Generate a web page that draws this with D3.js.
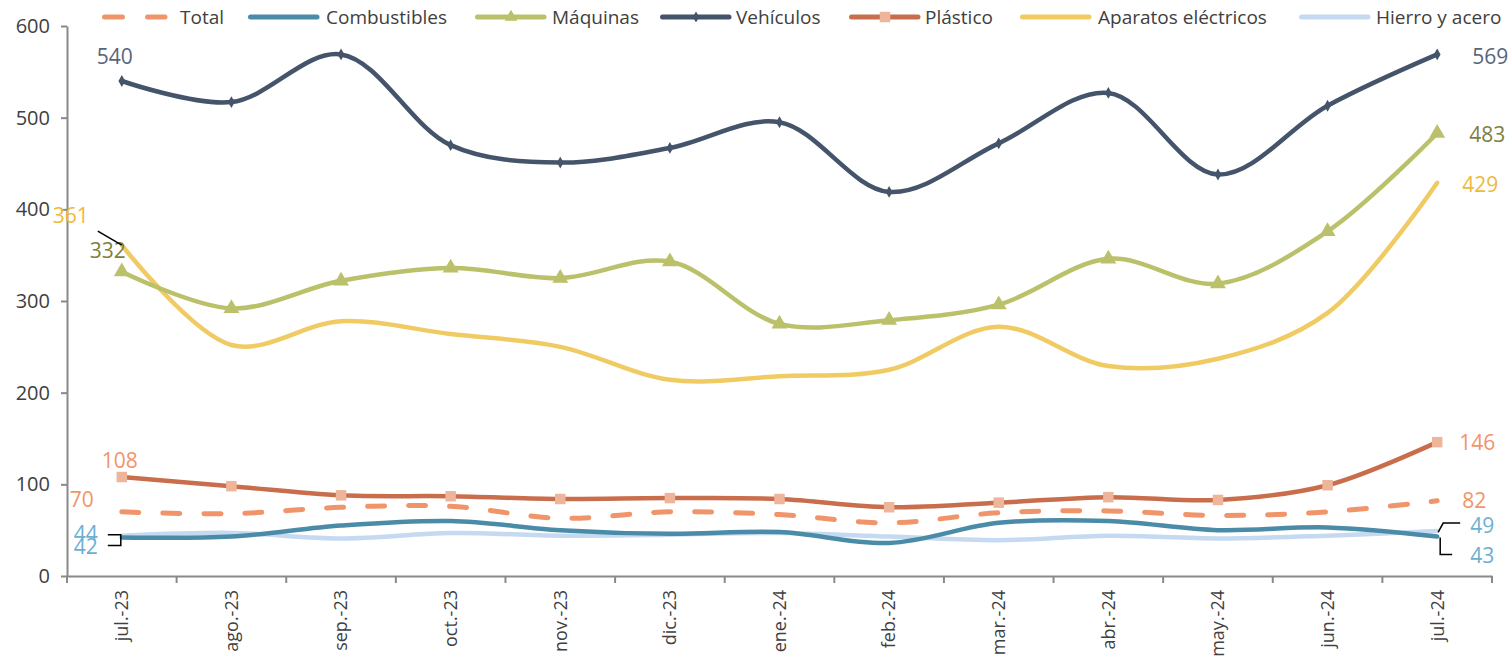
<!DOCTYPE html>
<html><head><meta charset="utf-8">
<script src="https://cdn.jsdelivr.net/npm/d3@7"></script>
<style>body{margin:0;background:#fff}svg{display:block}text{font-family:"Open Sans",Lato,sans-serif}</style>
</head><body><svg id="c" width="1509" height="660"></svg>
<script>
const categories = ["jul.-23","ago.-23","sep.-23","oct.-23","nov.-23","dic.-23","ene.-24","feb.-24","mar.-24","abr.-24","may.-24","jun.-24","jul.-24"];
const total        = [70,68,75,76,63,70,67,58,69,71,66,70,82];
const combustibles = [42,43,55,60,50,46,48,36,58,60,50,53,43];
const maquinas     = [332,292,322,336,325,343,275,279,296,346,319,376,483];
const vehiculos    = [540,517,569,470,451,467,495,419,472,527,438,513,569];
const plastico     = [108,98,88,87,84,85,84,75,80,86,83,99,146];
const aparatos     = [361,252,278,264,250,214,218,225,272,229,237,287,429];
const hierro       = [44,47,41,47,44,45,47,43,39,44,41,44,49];
const yTicks = [0,100,200,300,400,500,600];

const series = [
  {name:"Total", values:total, color:"#F0956A", dash:"17,24", marker:null, lab:"#F0956A"},
  {name:"Combustibles", values:combustibles, color:"#4A8BA8", marker:null, lab:"#6BB0D3"},
  {name:"Máquinas", values:maquinas, color:"#BBC16A", marker:"triangle", lab:"#7F7F3F"},
  {name:"Vehículos", values:vehiculos, color:"#44546A", marker:"diamond", lab:"#56657B"},
  {name:"Plástico", values:plastico, color:"#C96E4D", marker:"square", mcolor:"#EFB59B", lab:"#F0956A"},
  {name:"Aparatos eléctricos", values:aparatos, color:"#F0CB64", marker:null, lab:"#F0B93A"},
  {name:"Hierro y acero", values:hierro, color:"#C5D9F1", marker:null, lab:"#6BB0D3"}
];
const drawOrder = ["Hierro y acero","Combustibles","Total","Plástico","Aparatos eléctricos","Máquinas","Vehículos"];

const svg = d3.select("#c");
const FONT = '"Open Sans",Lato,sans-serif';
const x0 = 67, x1 = 1492, yTop = 26, yBot = 576;
const xb = d3.scaleBand().domain(categories).range([x0,x1]);
const x = c => xb(c) + xb.bandwidth()/2;
const y = d3.scaleLinear().domain([0,600]).range([yBot,yTop]);

// Y axis
const ya = svg.append("g").attr("transform",`translate(${x0},0)`)
  .call(d3.axisLeft(y).tickValues(yTicks).tickSize(6).tickPadding(11).tickSizeOuter(0));
ya.selectAll("path,line").attr("stroke","#898989").attr("stroke-width",2);
ya.selectAll("text").attr("font-size",20).attr("fill","#404040").attr("font-family",FONT);

// X axis
const xa = svg.append("g").attr("transform",`translate(0,${yBot})`)
  .call(d3.axisBottom(xb).tickSize(0).tickSizeOuter(0));
xa.select("path").attr("stroke","#898989").attr("stroke-width",2);
xa.selectAll(".tick text").attr("font-size",18).attr("fill","#404040").attr("font-family",FONT)
  .attr("transform","rotate(-90)").attr("text-anchor","end")
  .attr("x",-14).attr("y",0).attr("dy","0.35em");
const bounds = categories.map(c=>xb(c)).concat([x1]);
svg.append("g").selectAll("line").data(bounds).join("line")
  .attr("x1",d=>d).attr("x2",d=>d).attr("y1",yBot).attr("y2",yBot+7)
  .attr("stroke","#898989").attr("stroke-width",2);

const line = d3.line().x((d,i)=>x(categories[i])).y(d=>y(d)).curve(d3.curveCatmullRom.alpha(0.5));
const byName = Object.fromEntries(series.map(s=>[s.name,s]));
drawOrder.forEach(n=>{
  const s = byName[n];
  const g = svg.append("g");
  g.append("path").attr("d",line(s.values)).attr("fill","none").attr("stroke",s.color)
   .attr("stroke-width",s.name==="Total"?5:4.5).attr("stroke-linecap","round")
   .attr("stroke-dasharray",s.dash||null);
  if(s.marker){
    const sym = s.marker==="triangle"?d3.symbolTriangle:s.marker==="diamond"?d3.symbolDiamond:d3.symbolSquare;
    const size = s.marker==="triangle"?110:s.marker==="diamond"?40:110;
    g.selectAll("path.m").data(s.values).join("path").attr("class","m")
     .attr("transform",(d,i)=>`translate(${x(categories[i])},${y(d)})`)
     .attr("d",d3.symbol().type(sym).size(size)).attr("fill",s.mcolor||s.color);
  }
});

// Data labels at first and last points (offsets from the point)
const labels = [
  {s:"Vehículos", i:0, dx:-7, dy:-25},
  {s:"Aparatos eléctricos", i:0, dx:-51, dy:-30},
  {s:"Máquinas", i:0, dx:-14, dy:-22},
  {s:"Plástico", i:0, dx:-2, dy:-17},
  {s:"Total", i:0, dx:-40, dy:-13},
  {s:"Hierro y acero", i:0, dx:-36, dy:-3},
  {s:"Combustibles", i:0, dx:-36, dy:8},
  {s:"Vehículos", i:12, dx:53, dy:2},
  {s:"Máquinas", i:12, dx:50, dy:1},
  {s:"Aparatos eléctricos", i:12, dx:43, dy:1},
  {s:"Plástico", i:12, dx:40, dy:0},
  {s:"Total", i:12, dx:37, dy:-1},
  {s:"Hierro y acero", i:12, dx:45, dy:-6},
  {s:"Combustibles", i:12, dx:45, dy:18}
];
const lg = svg.append("g");
labels.forEach(l=>{
  const s = byName[l.s];
  const px = x(categories[l.i]), py = y(s.values[l.i]);
  lg.append("text").attr("x",px+l.dx).attr("y",py+l.dy).attr("text-anchor","middle")
    .attr("dominant-baseline","central").attr("font-size",21).attr("fill",s.lab)
    .attr("font-family",FONT).text(d3.format("d")(s.values[l.i]));
});
// leader lines
const xf = x(categories[0]), xl = x(categories[12]);
const lead = svg.append("g").attr("fill","none").attr("stroke","#000").attr("stroke-width",1.5);
lead.append("path").attr("d",`M${xf-24},${y(aparatos[0])-14}L${xf},${y(aparatos[0])}`);
lead.append("path").attr("d",`M${xf-14},${y(hierro[0])-1}H${xf-1}V${y(combustibles[0])+8}H${xf-14}`);
lead.append("path").attr("d",`M${xl+1},${y(hierro[12])+1}L${xl+6},${y(hierro[12])-8}H${xl+23}`);
lead.append("path").attr("d",`M${xl+3},${y(combustibles[12])+1}V${y(combustibles[12])+18}H${xl+15}`);

// Legend
const legendX = [102,248,475,660,849,1020,1299];
const legendT = [180,326,552,736,925,1098,1376];
const leg = svg.append("g");
series.forEach((s,k)=>{
  const lx = legendX[k], ly = 17;
  const g = leg.append("g");
  g.append("line").attr("x1",lx+2.5).attr("x2",lx+(s.dash?63:69)).attr("y1",ly).attr("y2",ly)
   .attr("stroke",s.color).attr("stroke-width",5).attr("stroke-linecap","round")
   .attr("stroke-dasharray",s.dash?"18,25":null);
  if(s.marker){
    const sym = s.marker==="triangle"?d3.symbolTriangle:s.marker==="diamond"?d3.symbolDiamond:d3.symbolSquare;
    const size = s.marker==="triangle"?70:s.marker==="diamond"?35:110;
    g.append("path").attr("transform",`translate(${lx+36},${ly})`)
     .attr("d",d3.symbol().type(sym).size(size)).attr("fill",s.mcolor||s.color);
  }
  g.append("text").attr("x",legendT[k]).attr("y",ly).attr("dominant-baseline","central")
   .attr("font-size",19).attr("fill","#404040").attr("font-family",FONT).text(s.name);
});
</script></body></html>
